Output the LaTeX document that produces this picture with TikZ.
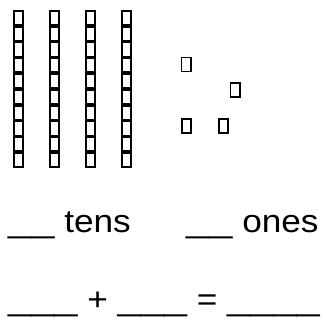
\documentclass[tikz,border=0pt]{standalone}
\usepackage{fontspec}
\setmainfont[FakeStretch=1.1]{Liberation Sans}
\newfontfamily\blankfont[FakeStretch=1.3]{Liberation Sans}
\newcommand\gap[1]{{\blankfont #1}}

\begin{document}
\begin{tikzpicture}[x=1pt, y=-1pt,
  cube/.style={draw=black, line width=1.8pt, fill=white, inner sep=0pt,
               minimum width=9.2pt, minimum height=14pt},
  word/.style={anchor=base west, inner sep=0pt, font=\fontsize{32}{36}\selectfont}
]
\useasboundingbox (0,0) rectangle (326,322);

% four tens rods
\foreach \r in {0,...,3}
  \foreach \c in {0,...,9}
    \node[cube] (rod\r-\c) at ({18.5+36*\r}, {10+15.8*(\c+0.5)}) {};

% loose ones
\node[cube] (one1) at (186,64.5) {};
\node[cube] (one2) at (235,90) {};
\node[cube] (one3) at (186.5,126) {};
\node[cube] (one4) at (223.5,126) {};

\node[word] (tens) at (8,232) {\gap{\_\_} tens};
\node[word] (ones) at (186,232) {\gap{\_\_} ones};

\node[word] (sum) at (8,310) {\gap{\_\_\_} + \gap{\_\_\_} = \gap{\_\_\_\_}};

\end{tikzpicture}
\end{document}
